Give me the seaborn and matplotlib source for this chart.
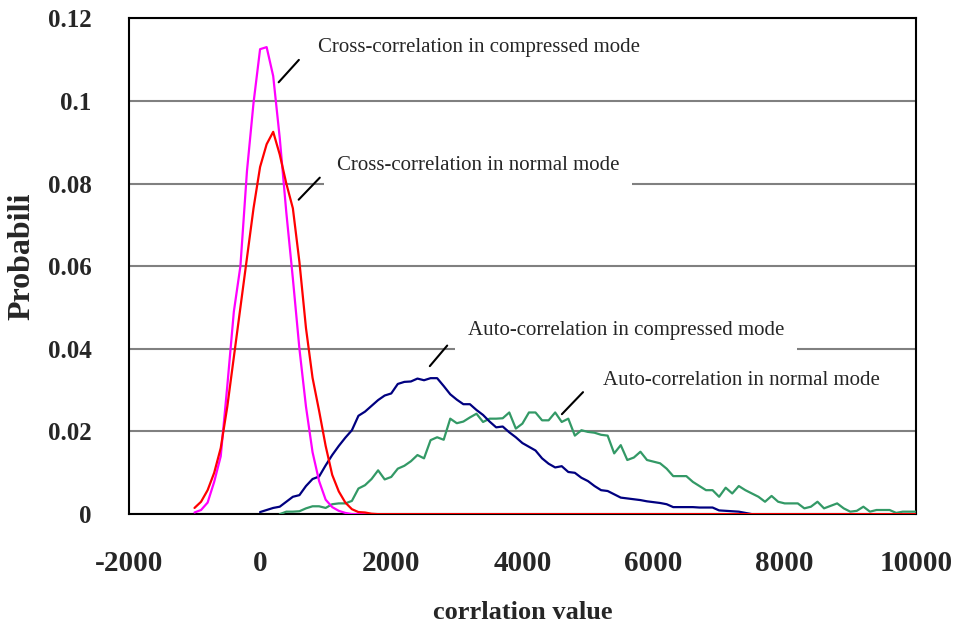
import seaborn as sns
from matplotlib import pyplot as plt
import numpy as np

# correlation value grid (step 100) and probabilities
x_cross = list(range(-1000, 1800, 100))
cross_compressed = [0.0004, 0.0010, 0.0028, 0.0078, 0.0140, 0.0310, 0.0490, 0.0600,
                    0.0830, 0.0995, 0.1125, 0.1130, 0.1060, 0.0910, 0.0730, 0.0570,
                    0.0400, 0.0260, 0.0150, 0.0080, 0.0035, 0.0017, 0.0008, 0.0003,
                    0.0, 0.0, 0.0, 0.0]
cross_normal = [0.0015, 0.0030, 0.0058, 0.0100, 0.0160, 0.0260, 0.0380, 0.0500,
                0.0620, 0.0740, 0.0840, 0.0895, 0.0925, 0.0870, 0.0800, 0.0740,
                0.0610, 0.0450, 0.0330, 0.0250, 0.0165, 0.0095, 0.0055, 0.0028,
                0.0012, 0.0005, 0.0004, 0.0001]
# red line runs along zero to the end of the axis
x_cross_tail = [1800, 10000]
cross_normal_tail = [0.0, 0.0]

x_auto_comp = list(range(0, 7600, 100))
auto_compressed = [0.0005, 0.0010, 0.0015, 0.0018, 0.0030, 0.0042, 0.0046, 0.0068,
                   0.0085, 0.0091, 0.0118, 0.0143, 0.0165, 0.0185, 0.0203, 0.0238,
                   0.0248, 0.0262, 0.0276, 0.0287, 0.0292, 0.0315, 0.0320, 0.0321,
                   0.0328, 0.0324, 0.0329, 0.0329, 0.0310, 0.0290, 0.0277, 0.0266,
                   0.0266, 0.0252, 0.0240, 0.0224, 0.0210, 0.0212, 0.0198, 0.0186,
                   0.0172, 0.0163, 0.0154, 0.0135, 0.0122, 0.0113, 0.0116, 0.0102,
                   0.0100, 0.0088, 0.0080, 0.0068, 0.0058, 0.0056, 0.0048, 0.0040,
                   0.0038, 0.0036, 0.0034, 0.0031, 0.0029, 0.0027, 0.0024, 0.0017,
                   0.0017, 0.0017, 0.0017, 0.0016, 0.0016, 0.0016, 0.0009, 0.0008,
                   0.0007, 0.0006, 0.0003, 0.0]

x_auto_norm = list(range(300, 10100, 100))
auto_normal = [0.0, 0.0006, 0.0006, 0.0007, 0.0014, 0.0019, 0.0019, 0.0015,
               0.0024, 0.0026, 0.0026, 0.0032, 0.0062, 0.0070, 0.0085, 0.0106,
               0.0084, 0.0090, 0.0110, 0.0117, 0.0128, 0.0143, 0.0135, 0.0179,
               0.0186, 0.0180, 0.0231, 0.0220, 0.0224, 0.0234, 0.0243, 0.0223,
               0.0231, 0.0231, 0.0232, 0.0246, 0.0207, 0.0219, 0.0246, 0.0246,
               0.0227, 0.0227, 0.0246, 0.0223, 0.0231, 0.0190, 0.0203, 0.0199,
               0.0197, 0.0192, 0.0190, 0.0147, 0.0167, 0.0131, 0.0137, 0.0151,
               0.0131, 0.0127, 0.0123, 0.0110, 0.0092, 0.0092, 0.0092, 0.0078,
               0.0068, 0.0058, 0.0058, 0.0042, 0.0064, 0.0050, 0.0068, 0.0058,
               0.0050, 0.0042, 0.0030, 0.0044, 0.0030, 0.0026, 0.0026, 0.0026,
               0.0014, 0.0018, 0.0030, 0.0014, 0.0020, 0.0026, 0.0014, 0.0006,
               0.0008, 0.0018, 0.0006, 0.0010, 0.0010, 0.0010, 0.0003, 0.0006,
               0.0006, 0.0006]

x_ticks = [-2000, 0, 2000, 4000, 6000, 8000, 10000]
y_ticks = [0, 0.02, 0.04, 0.06, 0.08, 0.1, 0.12]
y_tick_labels = ["0", "0.02", "0.04", "0.06", "0.08", "0.1", "0.12"]

sns.set_theme(style="white")
plt.rcParams['font.family'] = ['Liberation Serif', 'DejaVu Serif']
plt.rcParams['axes.unicode_minus'] = False

fig = plt.figure(figsize=(9.55, 6.27), dpi=100)
ax = fig.add_axes([0.135, 0.180, 0.824, 0.791])

lw = 1.6
sns.lineplot(x=x_auto_norm, y=auto_normal, color='#339966', lw=lw, ax=ax, zorder=4)
sns.lineplot(x=x_auto_comp, y=auto_compressed, color='#000080', lw=lw, ax=ax, zorder=5)
sns.lineplot(x=x_cross, y=cross_compressed, color='#FF00FF', lw=lw, ax=ax, zorder=6)
sns.lineplot(x=x_cross + x_cross_tail, y=cross_normal + cross_normal_tail,
             color='#FF0000', lw=lw, ax=ax, zorder=7)

ax.set_xlim(-2000, 10000)
ax.set_ylim(0, 0.12)
ax.set_xticks(x_ticks)
ax.set_yticks(y_ticks)
ax.set_yticklabels(y_tick_labels)

ax.yaxis.grid(True, color='#808080', lw=1.5)
ax.xaxis.grid(False)
ax.set_axisbelow(True)

for sp in ax.spines.values():
    sp.set_color('black')
    sp.set_linewidth(1.5)

ax.tick_params(axis='x', direction='in', length=8, width=1.2, color='black',
               pad=26, labelsize=21)
ax.tick_params(axis='y', direction='in', length=8, width=1.2, color='black',
               pad=27, labelsize=18)
for lab in ax.get_xticklabels() + ax.get_yticklabels():
    lab.set_fontweight('bold')

ax.set_xlabel("corrlation value", fontsize=19, fontweight='bold')
ax.set_ylabel("Probabili", fontsize=23, fontweight='bold')
ax.xaxis.set_label_coords(0.5, -0.198)
ax.xaxis.label.set_va('center')
ax.yaxis.set_label_coords(-0.136, 0.52)
ax.yaxis.label.set_va('center')

# annotations with leader lines; white boxes hide the gridlines behind them
box = dict(facecolor='white', edgecolor='none', pad=9)
notes = [
    ("Cross-correlation in compressed mode", (880, 0.1129), (620, 0.1104), (255, 0.1040)),
    ("Cross-correlation in normal mode", (1170, 0.0844), (940, 0.0819), (559, 0.0756)),
    ("Auto-correlation in compressed mode", (3170, 0.0445), (2881, 0.0413), (2561, 0.0353)),
    ("Auto-correlation in normal mode", (5229, 0.0324), (4954, 0.0300), (4573, 0.0237)),
]
for text, pos, start, end in notes:
    ax.text(pos[0], pos[1], text, fontsize=15, ha='left', va='center',
            bbox=box, zorder=3)
    ax.annotate("", xy=end, xytext=start,
                arrowprops=dict(arrowstyle='-', color='black', lw=1.5), zorder=8)

plt.savefig("out.png", dpi=100)
